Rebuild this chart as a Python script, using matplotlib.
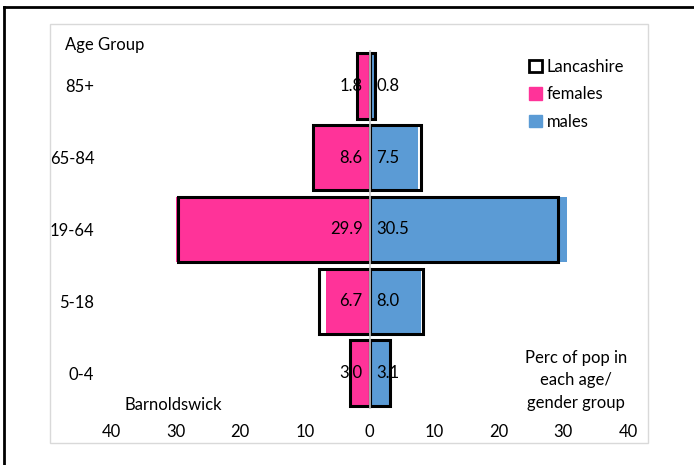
import numpy as np
import matplotlib
matplotlib.use("Agg")
import matplotlib.pyplot as plt
from matplotlib.lines import Line2D
from matplotlib.patches import Rectangle, Patch

plt.rcParams["font.family"] = ["Lato", "DejaVu Sans"]

# bottom to top
age_groups = ["0-4", "5-18", "19-64", "65-84", "85+"]
females = [3.0, 6.7, 29.9, 8.6, 1.8]       # Barnoldswick
males = [3.1, 8.0, 30.5, 7.5, 0.8]
lancs_females = [3.0, 7.8, 29.7, 8.8, 1.9]  # Lancashire outline
lancs_males = [3.2, 8.3, 29.2, 7.9, 0.9]
x_ticks = [-40, -30, -20, -10, 0, 10, 20, 30, 40]

PINK = "#FF3399"
BLUE = "#5B9BD5"
W, H = 694, 465
FS = 12

fig = plt.figure(figsize=(W / 100, H / 100), dpi=100)
ax = fig.add_axes([111 / W, 1 - 409 / H, (628 - 111) / W, (409 - 50) / H])

y = np.arange(len(age_groups))
bw = 0.91
ax.barh(y, -np.array(females), height=bw, color=PINK, zorder=2)
ax.barh(y, males, height=bw, color=BLUE, zorder=2)
ax.barh(y, -np.array(lancs_females), height=bw, facecolor="none",
        edgecolor="black", linewidth=2.2, zorder=3)
ax.barh(y, lancs_males, height=bw, facecolor="none",
        edgecolor="black", linewidth=2.2, zorder=3)

ax.axvline(0, color="#C8C8C8", linewidth=1.2, zorder=4)

# data labels at the inner end of each bar
for yi, f, m in zip(y, females, males):
    ax.annotate(f"{f:.1f}", xy=(0, yi), xytext=(-5, 0), textcoords="offset points",
                ha="right", va="center", fontsize=FS, zorder=5)
    ax.annotate(f"{m:.1f}", xy=(0, yi), xytext=(5, 0), textcoords="offset points",
                ha="left", va="center", fontsize=FS, zorder=5)

ax.set_xlim(-40, 40)
ax.set_ylim(-0.5, len(age_groups) - 0.5)
ax.set_xticks(x_ticks)
ax.set_xticklabels([str(abs(t)) for t in x_ticks], fontsize=FS)
ax.set_yticks(y)
ax.set_yticklabels(age_groups, fontsize=FS)
ax.tick_params(axis="x", length=0, pad=11)
ax.tick_params(axis="y", length=0, pad=12)
for s in ax.spines.values():
    s.set_visible(False)
ax.set_facecolor("none")

handles = [
    Patch(facecolor="white", edgecolor="black", linewidth=2),
    Patch(facecolor=PINK, edgecolor=PINK),
    Patch(facecolor=BLUE, edgecolor=BLUE),
]
fig.legend(handles, ["Lancashire", "females", "males"], loc="upper left",
           bbox_to_anchor=(514 / W, 1 - 44 / H), frameon=False, fontsize=FS,
           handlelength=0.75, handleheight=0.75, handletextpad=0.3, labelspacing=0.68)

fig.text(65 / W, 1 - 45 / H, "Age Group", fontsize=FS, va="center", ha="left")
fig.text(124 / W, 1 - 405 / H, "Barnoldswick", fontsize=FS, va="center", ha="left")
fig.text(576 / W, 1 - 380 / H, "Perc of pop in\neach age/\ngender group",
         fontsize=FS, va="center", ha="center", linespacing=1.5)

# chart area frame and outer border
fig.add_artist(Rectangle((50 / W, 1 - 443 / H), (648 - 50) / W, (443 - 24) / H,
                         transform=fig.transFigure, facecolor="none",
                         edgecolor="#D9D9D9", linewidth=1))
fig.add_artist(Line2D([4 / W, 1], [1 - 7 / H, 1 - 7 / H], color="black", linewidth=2))
fig.add_artist(Line2D([4 / W, 4 / W], [0, 1 - 7 / H], color="black", linewidth=2))

fig.savefig("out.png", dpi=100)
